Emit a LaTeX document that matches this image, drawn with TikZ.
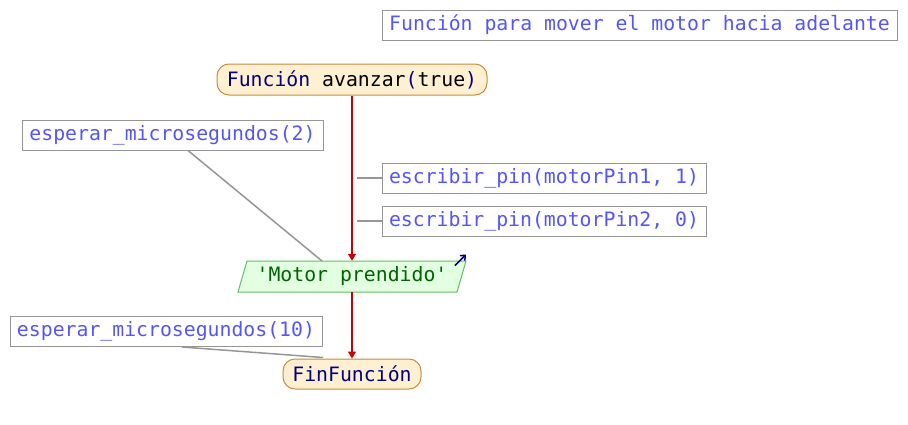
\documentclass[tikz,border=0pt]{standalone}
\usepackage{fontspec}
\setmonofont{DejaVu Sans Mono}
\usetikzlibrary{arrows.meta,calc}
\definecolor{cmtxt}{RGB}{85,85,250}
\definecolor{cmborder}{RGB}{150,150,150}
\definecolor{navytxt}{RGB}{0,0,128}
\definecolor{termfill}{RGB}{255,240,210}
\definecolor{termdraw}{RGB}{200,140,60}
\definecolor{iofill}{RGB}{226,255,226}
\definecolor{iodraw}{RGB}{100,190,100}
\definecolor{iotxt}{RGB}{0,100,0}
\definecolor{flowred}{RGB}{204,0,0}
\begin{document}
\begin{tikzpicture}[x=1pt,y=-1pt,
  every node/.style={font=\ttfamily\fontsize{19.8}{24}\selectfont, inner sep=0pt},
  cmt/.style={draw=cmborder, line width=1pt, text=cmtxt, fill=white, minimum height=30pt},
  term/.style={draw=termdraw, fill=termfill, line width=1pt, rounded corners=12pt, minimum height=31pt, text=navytxt},
  flow/.style={draw=flowred, line width=1.5pt, -{Triangle[width=8pt,length=7pt]}},
  link/.style={draw=cmborder, line width=1.5pt}]
\useasboundingbox (0,0) rectangle (908,424);

\node[cmt, minimum width=515pt] (title) at (639.5,25) {Función para mover el motor hacia adelante};

\node[term, minimum width=270pt] (start) at (352,79.5) {Función \textcolor{black}{avanzar}(\textcolor{black}{true})};

\node[cmt, minimum width=301pt] (w2) at (172.5,135) {esperar\_microsegundos(2)};
\node[cmt, minimum width=324pt] (p1) at (544,178) {escribir\_pin(motorPin1, 1)};
\node[cmt, minimum width=324pt] (p2) at (544,221) {escribir\_pin(motorPin2, 0)};

\node[text=iotxt, minimum width=220pt, minimum height=31pt] (io) at (352,276.5) {'Motor prendido'};
\draw[draw=iodraw, fill=iofill, line width=1pt]
  ($(io.center)+(-105,-15.5)$) -- ($(io.center)+(114,-15.5)$) -- ($(io.center)+(105,15.5)$) -- ($(io.center)+(-114,15.5)$) -- cycle;
\node[text=iotxt] at (io.center) {'Motor prendido'};
\coordinate (ioa) at ($(io.center)+(103,-11)$);
\coordinate (iob) at ($(io.center)+(114,-22)$);
\draw[navytxt, line width=1.5pt, -{Straight Barb[length=4pt,width=7pt]}] (ioa) -- (iob);

\node[cmt, minimum width=312pt] (w10) at (166,331.5) {esperar\_microsegundos(10)};
\node[term, minimum width=138pt, minimum height=30pt] (fin) at (352,374) {FinFunción};

\coordinate (w2s) at ($(w2.south)+(15.5,0)$);
\coordinate (w2end) at (322,261);
\draw[link] (w2s) -- (w2end);
\draw[link] (p1.west) -- ++(-25,0);
\draw[link] (p2.west) -- ++(-25,0);
\coordinate (w10s) at ($(w10.south)+(16,0)$);
\coordinate (fintop) at ($(fin.north)+(-29,-1)$);
\draw[link] (w10s) -- (fintop);

\draw[flow] (start.south) -- (io.north);
\draw[flow] (io.south) -- (fin.north);
\end{tikzpicture}
\end{document}
